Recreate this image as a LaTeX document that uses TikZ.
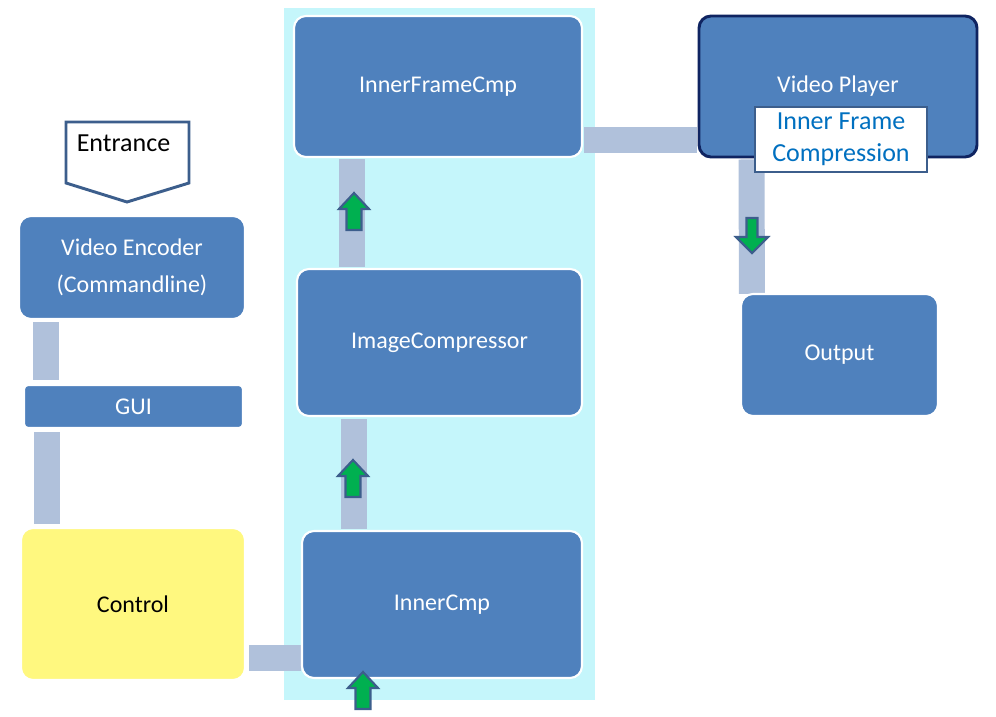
\documentclass[tikz,border=0pt]{standalone}
\usepackage{fontspec}
\setmainfont{Carlito}
\usetikzlibrary{calc}
\pgfdeclarelayer{bg}
\pgfsetlayers{bg,main}
\definecolor{boxblue}{HTML}{4F81BD}
\definecolor{bgcyan}{HTML}{C5F6FB}
\definecolor{barcol}{HTML}{B0C1DB}
\definecolor{ctrlyellow}{HTML}{FFF87F}
\definecolor{navy}{HTML}{0F2461}
\definecolor{edgeblue}{HTML}{3C5E8C}
\definecolor{txtblue}{HTML}{0070C0}
\definecolor{garrowfill}{HTML}{00B050}
\tikzset{
  bbox/.style={draw=white, line width=1.6pt, fill=boxblue, rounded corners=9pt, text=white,
    font=\fontsize{18}{27.75}\selectfont, align=center, inner sep=0pt},
  bar/.style={draw=barcol, line width=19.5pt},
  garrow/.style={draw=edgeblue, fill=garrowfill, line width=1.6pt, line join=miter},
  uparr/.pic={\draw[garrow] (0,0)--(15,16)--(7.5,16)--(7.5,37)--(-7.5,37)--(-7.5,16)--(-15,16)--cycle;},
  downarr/.pic={\draw[garrow] (0,0)--(16,-16)--(5.5,-16)--(5.5,-35)--(-5.5,-35)--(-5.5,-16)--(-16,-16)--cycle;}
}
\begin{document}
\begin{tikzpicture}[x=0.75pt, y=-0.75pt]
\begin{pgfonlayer}{bg}
\useasboundingbox[fill=white] (0,0) rectangle (996,717);
\fill[bgcyan] (284,8) rectangle (595,700);
\end{pgfonlayer}

\node[bbox, minimum width=169.5pt, minimum height=77.25pt] (enc) at (132,267.5) {Video Encoder\\(Commandline)};
\node[bbox, rounded corners=3pt, minimum width=164.25pt, minimum height=32.25pt] (gui) at (133.5,406.5) {GUI};
\node[bbox, fill=ctrlyellow, text=black, minimum width=168pt, minimum height=114pt] (ctrl) at (133,604) {Control};
\node[bbox, minimum width=216pt, minimum height=105.75pt] (ifc) at (438,86.5) {InnerFrameCmp};
\node[bbox, minimum width=213.75pt, minimum height=110.25pt] (imgc) at (439.5,342.5) {ImageCompressor};
\node[bbox, minimum width=210pt, minimum height=110.25pt] (icmp) at (442,604.5) {InnerCmp};
\node[bbox, draw=navy, line width=2.2pt, minimum width=208.5pt, minimum height=105.75pt] (vp) at (838,86.5) {Video Player};
\node[bbox, minimum width=147.75pt, minimum height=91.5pt] (out) at (839.5,355) {Output};

% connector bars, under the boxes
\begin{pgfonlayer}{bg}
\draw[bar] ($(enc.south west)+(28,2)$) -- ($(gui.north west)+(23,-4)$);
\draw[bar] ($(gui.south west)+(24,3)$) -- ($(ctrl.north west)+(27,-3)$);
\draw[bar] ($(ctrl.east)+(3,53.5)$) -- ($(icmp.west)+(0,53)$);
\draw[bar] ($(icmp.north west)+(53.5,-1)$) -- ($(imgc.south west)+(58.5,2)$);
\draw[bar] ($(imgc.north west)+(56.5,-1)$) -- ($(ifc.south west)+(59.5,1)$);
\draw[bar] ($(ifc.east)+(1,53)$) -- ($(vp.west)+(-1,53)$);
\draw[bar] ($(vp.south west)+(54,1)$) -- ($(out.north west)+(12,1)$);
\end{pgfonlayer}

% inner frame compression label
\node[draw=edgeblue, line width=1.6pt, fill=white, text=txtblue, align=center, inner sep=0pt,
  minimum width=129pt, minimum height=48.75pt, font=\fontsize{19.5}{24}\selectfont] (ifcl) at (841,139.5) {Inner Frame\\Compression};

% entrance
\draw[draw=edgeblue, line width=2.2pt, fill=white, line join=miter] (66,122) -- (189,122) -- (189,183) -- (127,202) -- (66,183) -- cycle;
\node[font=\fontsize{19.5}{20}\selectfont, text=black, inner sep=0pt] (entr) at (123.5,143.5) {Entrance};

% green arrows
\pic at (354,193) {uparr};
\pic at (353,460) {uparr};
\pic at (363,672) {uparr};
\pic at (752,253) {downarr};
\end{tikzpicture}
\end{document}
